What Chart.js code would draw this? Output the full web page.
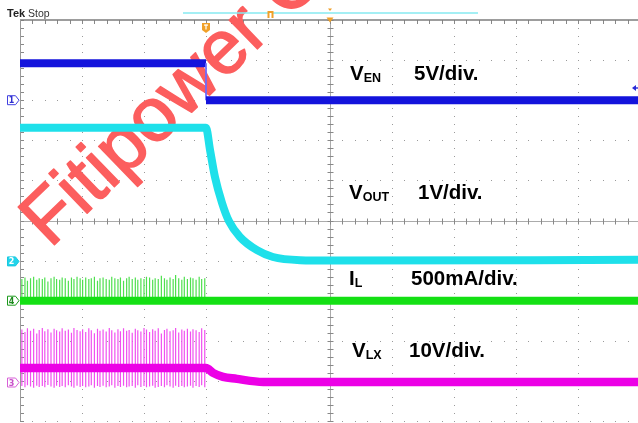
<!DOCTYPE html>
<html>
<head>
<meta charset="utf-8">
<script src="https://cdn.jsdelivr.net/npm/chart.js@4.4.1/dist/chart.umd.min.js"></script>
<style>
  html, body { margin: 0; padding: 0; background: #fff; overflow: hidden; }
  #wrap { width: 660px; height: 423px; }
</style>
</head>
<body>
<div id="wrap"><canvas id="scope" width="660" height="423"></canvas></div>
<script>
// scope settings: scale per division and trace position (in divisions) for CH1..CH4
const chNames = ['VEN', 'VOUT', 'IL', 'VLX'];
const perDiv = [5, 1, 0.5, 10];          // V/div, V/div, A/div, V/div
const positionDiv = [3.0, -1.02, -2.0, -4.04];

// time axis in divisions (0..10), EN falls at 3.0 div
const venTime = [0, 3.0, 3.0, 10];
const venVolts = [4.6, 4.6, 0, 0];

const voutTime = [0, 3.0, 3.065, 3.145, 3.258, 3.371, 3.548, 3.823, 4.08, 4.52, 5.0, 10];
const voutVolts = [3.33, 3.33, 2.78, 2.1, 1.46, 1.0, 0.61, 0.28, 0.11, 0.03, 0.02, 0.04];

const ilTime = [0, 10];
const ilAmps = [0, 0];

const lxTime = [0, 3.0, 3.113, 3.274, 3.5, 3.71, 3.98, 10];
const lxVolts = [3.6, 3.6, 2.4, 1.4, 0.9, 0.4, 0.1, 0.1];

// switching pulses before shutdown
const spikeTime = [
  0.03,0.08,0.12,0.17,0.22,0.27,0.31,0.36,0.40,0.45,
  0.50,0.55,0.59,0.64,0.68,0.73,0.78,0.83,0.87,0.92,
  0.97,1.01,1.06,1.11,1.15,1.20,1.25,1.29,1.34,1.39,
  1.44,1.48,1.53,1.58,1.62,1.67,1.72,1.76,1.81,1.86,
  1.90,1.95,2.00,2.04,2.09,2.14,2.18,2.23,2.28,2.33,
  2.37,2.42,2.47,2.51,2.56,2.61,2.65,2.70,2.75,2.79,
  2.84,2.89,2.93,2.98];
const ilSpikePeak = [
  0.27,0.29,0.25,0.28,0.30,0.26,0.28,0.27,0.29,0.24,
  0.28,0.30,0.27,0.26,0.29,0.28,0.25,0.29,0.27,0.30,
  0.28,0.26,0.29,0.27,0.28,0.30,0.25,0.28,0.29,0.27,
  0.26,0.30,0.28,0.27,0.29,0.25,0.28,0.30,0.27,0.29,
  0.26,0.28,0.27,0.30,0.29,0.26,0.28,0.27,0.31,0.28,
  0.26,0.29,0.27,0.32,0.28,0.26,0.30,0.27,0.29,0.28,
  0.26,0.30,0.27,0.28];
const lxSpikeHigh = [
  13.2,12.6,13.5,12.9,13.4,12.2,13.1,13.6,12.8,13.3,
  12.5,13.4,13.0,12.7,13.5,12.9,13.2,12.4,13.6,13.1,
  12.8,13.3,12.6,13.5,13.0,12.3,13.4,12.9,13.2,12.7,
  13.6,13.0,12.5,13.3,12.8,13.5,12.9,13.1,12.4,13.4,
  13.0,12.7,13.6,13.2,12.6,13.3,12.9,13.5,12.2,13.1,
  13.4,12.8,13.0,13.6,12.5,13.2,12.9,13.4,12.7,13.3,
  13.0,12.6,13.5,13.1];
const lxSpikeLow = [
  -0.9,-1.2,-0.7,-1.0,-1.3,-0.8,-1.1,-0.9,-1.2,-0.6,
  -1.0,-1.3,-0.8,-1.1,-0.9,-1.2,-0.7,-1.0,-1.3,-0.8,
  -1.1,-0.9,-1.2,-1.0,-0.7,-1.3,-0.9,-1.1,-0.8,-1.2,
  -1.0,-0.7,-1.3,-0.9,-1.1,-0.8,-1.2,-1.0,-0.9,-1.3,
  -0.7,-1.1,-0.9,-1.2,-1.0,-0.8,-1.3,-1.1,-0.9,-1.2,
  -0.7,-1.0,-1.3,-0.8,-1.1,-0.9,-1.2,-1.0,-0.8,-1.3,
  -0.9,-1.1,-0.7,-1.2];

const colBlue = '#1414dc', colCyan = '#1ee0ea', colGreen = '#14e014', colMag = '#ec00e6';

function toDiv(ch, v) { return positionDiv[ch] + v / perDiv[ch]; }
function trace(t, v, ch) { return t.map((ti, i) => ({x: ti, y: toDiv(ch, v[i])})); }
function spikes(lo, hi, ch) {
  const pts = [];
  spikeTime.forEach((t, i) => {
    const a = Array.isArray(lo) ? lo[i] : lo;
    pts.push({x: t, y: toDiv(ch, a)}, {x: t, y: toDiv(ch, hi[i])}, {x: t, y: null});
  });
  return pts;
}

// graticule: dotted divisions, centre cross with minor ticks, top/left frame, watermark behind traces
const graticule = {
  id: 'graticule',
  beforeDatasetsDraw(chart) {
    const {ctx, scales: {x, y}} = chart;
    const px = v => Math.round(x.getPixelForValue(v));
    const py = v => Math.round(y.getPixelForValue(v));
    ctx.save();
    ctx.fillStyle = '#9a9a9a';
    for (let i = 1; i <= 10; i++) {
      if (i === 5) continue;
      for (let k = 0; k <= 50; k++) ctx.fillRect(px(i), py(-5 + k * 0.2), 1, 1);
    }
    for (let j = -5; j <= 4; j++) {
      if (j === 0) continue;
      for (let k = 0; k <= 50; k++) ctx.fillRect(px(k * 0.2), py(j), 1, 1);
    }
    // centre cross
    ctx.strokeStyle = '#ababab';
    ctx.lineWidth = 1;
    const cx = px(5) + 0.5, cy = py(0) + 0.5;
    ctx.beginPath();
    ctx.moveTo(cx, py(5)); ctx.lineTo(cx, py(-5));
    ctx.moveTo(px(0), cy); ctx.lineTo(px(10), cy);
    ctx.stroke();
    ctx.strokeStyle = '#888';
    ctx.beginPath();
    for (let k = 0; k <= 50; k++) {
      const yy = py(-5 + k * 0.2) + 0.5, xx = px(k * 0.2) + 0.5;
      ctx.moveTo(cx - 3, yy); ctx.lineTo(cx + 3, yy);
      ctx.moveTo(xx, cy - 3); ctx.lineTo(xx, cy + 3);
      ctx.moveTo(px(0), yy); ctx.lineTo(px(0) + 4, yy);
      ctx.moveTo(xx, py(5)); ctx.lineTo(xx, py(5) + 4);
    }
    ctx.stroke();
    // frame
    ctx.strokeStyle = '#7c7c7c';
    ctx.lineWidth = 1.5;
    ctx.beginPath();
    ctx.moveTo(px(0), py(5)); ctx.lineTo(px(10), py(5));
    ctx.stroke();
    ctx.strokeStyle = '#9a9a9a';
    ctx.lineWidth = 1;
    ctx.beginPath();
    ctx.moveTo(px(0) + 0.5, py(5)); ctx.lineTo(px(0) + 0.5, py(-5));
    ctx.stroke();
    ctx.restore();

    // watermark
    ctx.save();
    ctx.translate(50, 249);
    ctx.rotate(-44 * Math.PI / 180);
    ctx.font = '76px "Liberation Sans", Arial, sans-serif';
    ctx.fillStyle = '#fc5e5e';
    ctx.strokeStyle = '#fc5e5e';
    ctx.lineWidth = 1.5;
    ctx.lineJoin = 'round';
    ctx.fillText('Fitipower Confidential', 0, 0);
    ctx.strokeText('Fitipower Confidential', 0, 0);
    ctx.restore();
  }
};

function label(ctx, main, sub, x, y, scaleText, sx) {
  ctx.font = 'bold 20.5px "Liberation Sans", Arial, sans-serif';
  ctx.fillText(main, x, y);
  const w = ctx.measureText(main).width;
  ctx.font = 'bold 12.5px "Liberation Sans", Arial, sans-serif';
  ctx.fillText(sub, x + w, y + 2);
  ctx.font = 'bold 20.5px "Liberation Sans", Arial, sans-serif';
  ctx.fillText(scaleText, sx, y);
}

function chMarker(ctx, yy, num, stroke, fill, txt) {
  ctx.beginPath();
  ctx.moveTo(7.5, yy - 4.5); ctx.lineTo(15.5, yy - 4.5); ctx.lineTo(19, yy);
  ctx.lineTo(15.5, yy + 4.5); ctx.lineTo(7.5, yy + 4.5); ctx.closePath();
  ctx.fillStyle = fill; ctx.fill();
  ctx.strokeStyle = stroke; ctx.lineWidth = 1; ctx.stroke();
  ctx.fillStyle = txt;
  ctx.font = 'bold 8px "DejaVu Sans", sans-serif';
  ctx.textAlign = 'center';
  ctx.fillText(num, 11.5, yy + 3);
  ctx.textAlign = 'left';
}

const overlay = {
  id: 'overlay',
  afterDatasetsDraw(chart) {
    const {ctx, scales: {x, y}} = chart;
    ctx.save();
    ctx.fillStyle = '#000';
    label(ctx, 'V', 'EN', 350, 80, '5V/div.', 414);
    label(ctx, 'V', 'OUT', 349, 199, '1V/div.', 418);
    label(ctx, 'I', 'L', 349, 285, '500mA/div.', 411);
    label(ctx, 'V', 'LX', 352, 357, '10V/div.', 409);

    // channel ground markers
    chMarker(ctx, y.getPixelForValue(positionDiv[0]), '1', '#4040e0', '#fff', '#3030d0');
    chMarker(ctx, y.getPixelForValue(positionDiv[1]), '2', '#18c8e0', '#22d4ea', '#fff');
    chMarker(ctx, y.getPixelForValue(positionDiv[2]), '4', '#1c9a1c', '#fff', '#1c8a1c');
    chMarker(ctx, y.getPixelForValue(positionDiv[3]), '3', '#d860d8', '#fff', '#c850c8');

    // header
    ctx.fillStyle = '#222';
    ctx.font = 'bold 11px "Liberation Sans", Arial, sans-serif';
    ctx.fillText('Tek', 7, 17);
    ctx.fillStyle = '#333';
    ctx.font = '10.5px "Liberation Sans", Arial, sans-serif';
    ctx.fillText('Stop', 28, 17);

    // record view bar and markers
    ctx.strokeStyle = '#86eaf0';
    ctx.lineWidth = 1.5;
    ctx.beginPath(); ctx.moveTo(183, 13); ctx.lineTo(478, 13); ctx.stroke();
    ctx.fillStyle = '#f0a028';
    ctx.fillRect(267.5, 11, 6, 7);
    ctx.fillStyle = '#fff';
    ctx.fillRect(269.5, 13, 2, 5);
    const tx = x.getPixelForValue(3.0);
    ctx.fillStyle = '#f0a028';
    ctx.beginPath();
    ctx.moveTo(tx - 4, 23); ctx.lineTo(tx + 4, 23); ctx.lineTo(tx + 4, 30);
    ctx.lineTo(tx, 33); ctx.lineTo(tx - 4, 30); ctx.closePath(); ctx.fill();
    ctx.fillStyle = '#fff';
    ctx.fillRect(tx - 2, 24.5, 4, 1.2);
    ctx.fillRect(tx - 0.6, 24.5, 1.2, 5);
    const cx5 = x.getPixelForValue(5);
    ctx.fillStyle = '#f0a028';
    ctx.beginPath();
    ctx.moveTo(cx5 - 3.5, 17.5); ctx.lineTo(cx5 + 3.5, 17.5); ctx.lineTo(cx5, 22.5); ctx.closePath(); ctx.fill();
    ctx.beginPath();
    ctx.moveTo(cx5 - 2, 8.5); ctx.lineTo(cx5 + 2, 8.5); ctx.lineTo(cx5, 11); ctx.closePath(); ctx.fill();

    // trigger level arrow (right edge)
    ctx.fillStyle = '#2a2ad8';
    ctx.beginPath();
    ctx.moveTo(632, 88); ctx.lineTo(636, 85); ctx.lineTo(636, 91); ctx.closePath(); ctx.fill();
    ctx.fillRect(635, 87.3, 3, 1.4);
    ctx.restore();
  }
};

const thin = c => c.p0.parsed.x === c.p1.parsed.x;

new Chart(document.getElementById('scope'), {
  type: 'line',
  data: {
    datasets: [
      {
        label: chNames[0], data: trace(venTime, venVolts, 0),
        borderColor: colBlue, borderWidth: 8,
        segment: {
          borderWidth: c => thin(c) ? 1 : 8,
          borderColor: c => thin(c) ? '#6a6aff' : colBlue
        }
      },
      {
        label: chNames[1], data: trace(voutTime, voutVolts, 1),
        borderColor: colCyan, borderWidth: 8, cubicInterpolationMode: 'monotone'
      },
      {label: chNames[2], data: trace(ilTime, ilAmps, 2), borderColor: colGreen, borderWidth: 8},
      {
        label: chNames[3], data: trace(lxTime, lxVolts, 3),
        borderColor: colMag, borderWidth: 8.5, cubicInterpolationMode: 'monotone'
      },
      {label: 'IL pulses', data: spikes(0, ilSpikePeak, 2), borderColor: '#4ee04e', borderWidth: 1.2},
      {label: 'LX pulses', data: spikes(lxSpikeLow, lxSpikeHigh, 3), borderColor: '#f050f0', borderWidth: 1.2}
    ]
  },
  options: {
    responsive: false,
    animation: false,
    devicePixelRatio: 1,
    layout: {padding: {left: 20, top: 20, right: 20, bottom: 2}},
    scales: {
      x: {type: 'linear', min: 0, max: 10, display: false},
      y: {type: 'linear', min: -5, max: 5, display: false}
    },
    elements: {point: {radius: 0}, line: {borderCapStyle: 'butt', borderJoinStyle: 'miter'}},
    plugins: {legend: {display: false}, tooltip: {enabled: false}}
  },
  plugins: [graticule, overlay]
});
</script>
</body>
</html>
